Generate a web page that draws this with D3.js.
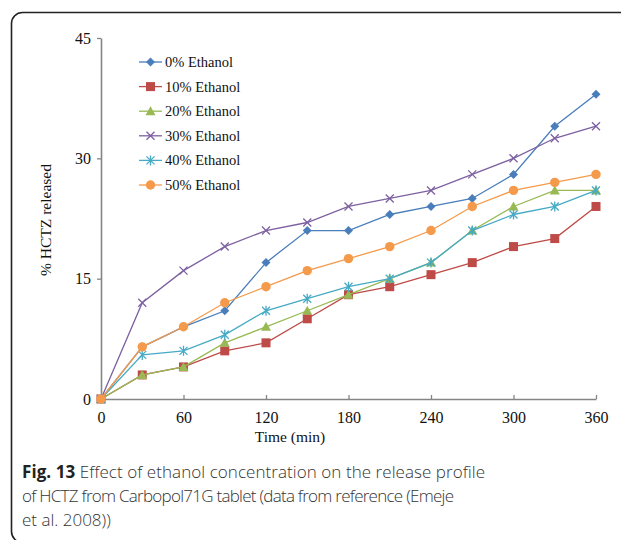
<!DOCTYPE html>
<html>
<head>
<meta charset="utf-8">
<script src="https://cdn.jsdelivr.net/npm/d3@7"></script>
<style>
  body { margin: 0; background: #fff; }
  svg { display: block; }
</style>
</head>
<body>
<svg width="621" height="540"></svg>
<script>
// data
var times = [0, 30, 60, 90, 120, 150, 180, 210, 240, 270, 300, 330, 360];
var seriesNames = ["0% Ethanol", "10% Ethanol", "20% Ethanol", "30% Ethanol", "40% Ethanol", "50% Ethanol"];
var eth0  = [0, 6.5, 9, 11, 17, 21, 21, 23, 24, 25, 28, 34, 38];
var eth10 = [0, 3, 4, 6, 7, 10, 13, 14, 15.5, 17, 19, 20, 24];
var eth20 = [0, 3, 4, 7, 9, 11, 13, 15, 17, 21, 24, 26, 26];
var eth30 = [0, 12, 16, 19, 21, 22, 24, 25, 26, 28, 30, 32.5, 34];
var eth40 = [0, 5.5, 6, 8, 11, 12.5, 14, 15, 17, 21, 23, 24, 26];
var eth50 = [0, 6.5, 9, 12, 14, 16, 17.5, 19, 21, 24, 26, 27, 28];
var xTicks = [0, 60, 120, 180, 240, 300, 360];
var yTicks = [0, 15, 30, 45];

var colors = ["#4a7ebb", "#be4b48", "#98b954", "#7d60a0", "#46aac5", "#f59a4a"];
var markers = ["diamond", "square", "triangle", "x", "star", "circle"];

var allSeries = [eth0, eth10, eth20, eth30, eth40, eth50].map(function(vals, i) {
    return { name: seriesNames[i], color: colors[i], marker: markers[i],
             points: vals.map(function(v, j) { return { t: times[j], v: v }; }) };
});

var svg = d3.select("svg");

// outer rounded frame (runs off right and bottom edges)
svg.append("rect")
    .attr("x", 11.5).attr("y", 12.5)
    .attr("width", 640).attr("height", 530)
    .attr("rx", 11)
    .attr("fill", "none")
    .attr("stroke", "#222")
    .attr("stroke-width", 1.6);

var x = d3.scaleLinear().domain([0, 360]).range([101, 596]);
var y = d3.scaleLinear().domain([0, 45]).range([399, 38]);

var axisColor = "#858585";
var serif = "'Liberation Serif', 'Times New Roman', serif";

// y axis
var yAxis = svg.append("g")
    .attr("transform", "translate(101,0)")
    .call(d3.axisLeft(y).tickValues(yTicks).tickSize(4).tickSizeOuter(0));
// x axis, ticks pointing up
var xAxis = svg.append("g")
    .attr("transform", "translate(0,399)")
    .call(d3.axisBottom(x).tickValues(xTicks).tickSize(-4).tickSizeOuter(0).tickPadding(13));

[yAxis, xAxis].forEach(function(g) {
    g.select(".domain").attr("stroke", axisColor).attr("stroke-width", 1.6);
    g.selectAll(".tick line").attr("stroke", axisColor).attr("stroke-width", 1.3);
    g.selectAll(".tick text")
        .attr("fill", "#111")
        .style("font-family", serif)
        .style("font-size", "16px");
});
yAxis.selectAll(".tick text").attr("x", -10);

// axis titles
svg.append("text")
    .attr("transform", "translate(51,220) rotate(-90)")
    .attr("text-anchor", "middle")
    .style("font-family", serif)
    .style("font-size", "15.5px")
    .attr("fill", "#111")
    .text("% HCTZ released");

svg.append("text")
    .attr("x", 290).attr("y", 442)
    .attr("text-anchor", "middle")
    .style("font-family", serif)
    .style("font-size", "15.5px")
    .attr("fill", "#111")
    .text("Time (min)");

// marker drawing
function drawMarker(g, type, color) {
    if (type === "diamond") {
        g.append("path").attr("d", "M0,-4.5L4.5,0L0,4.5L-4.5,0Z").attr("fill", color);
    } else if (type === "square") {
        g.append("rect").attr("x", -4.5).attr("y", -4.5).attr("width", 9).attr("height", 9).attr("fill", color);
    } else if (type === "triangle") {
        g.append("path").attr("d", "M0,-5L5,4L-5,4Z").attr("fill", color);
    } else if (type === "x") {
        g.append("path").attr("d", "M-4,-4L4,4M-4,4L4,-4").attr("stroke", color).attr("stroke-width", 1.3);
    } else if (type === "star") {
        g.append("path").attr("d", "M-4,-4L4,4M-4,4L4,-4M0,-5L0,5").attr("stroke", color).attr("stroke-width", 1.3);
    } else {
        g.append("circle").attr("r", 4.7).attr("fill", color);
    }
}

var line = d3.line()
    .x(function(d) { return x(d.t); })
    .y(function(d) { return y(d.v); });

var groups = svg.selectAll(".series")
    .data(allSeries)
    .enter()
    .append("g")
    .attr("class", "series");

groups.append("path")
    .attr("d", function(d) { return line(d.points); })
    .attr("fill", "none")
    .attr("stroke", function(d) { return d.color; })
    .attr("stroke-width", 1.3);

groups.each(function(s) {
    var g = d3.select(this);
    s.points.forEach(function(p) {
        var m = g.append("g").attr("transform", "translate(" + x(p.t) + "," + y(p.v) + ")");
        drawMarker(m, s.marker, s.color);
    });
});

// legend
var legend = svg.append("g").attr("transform", "translate(139,62)");
var legendItem = legend.selectAll(".legenditem")
    .data(allSeries)
    .enter()
    .append("g")
    .attr("class", "legenditem")
    .attr("transform", function(d, i) { return "translate(0," + (i * 24.6) + ")"; });

legendItem.append("line")
    .attr("x1", 0).attr("x2", 23)
    .attr("stroke", function(d) { return d.color; })
    .attr("stroke-width", 1.3);
legendItem.each(function(d) {
    var m = d3.select(this).append("g").attr("transform", "translate(11.5,0)");
    drawMarker(m, d.marker, d.color);
});
legendItem.append("text")
    .attr("x", 26).attr("y", 5)
    .style("font-family", serif)
    .style("font-size", "14.5px")
    .attr("fill", "#111")
    .text(function(d) { return d.name; });

// caption
var sans = "'Open Sans', 'Noto Sans', sans-serif";
var cap1 = svg.append("text")
    .attr("x", 22).attr("y", 478)
    .attr("textLength", 463)
    .attr("lengthAdjust", "spacing")
    .style("font-family", sans)
    .style("font-size", "17px")
    .attr("fill", "#333");
cap1.append("tspan").style("font-weight", "bold").attr("fill", "#222").text("Fig. 13");
cap1.append("tspan").style("font-weight", "300").text(" Effect of ethanol concentration on the release profile");

svg.append("text")
    .attr("x", 22).attr("y", 502)
    .attr("textLength", 432)
    .attr("lengthAdjust", "spacing")
    .style("font-family", sans)
    .style("font-size", "17px")
    .style("font-weight", "300")
    .attr("fill", "#333")
    .text("of HCTZ from Carbopol71G tablet (data from reference (Emeje");

svg.append("text")
    .attr("x", 22).attr("y", 526)
    .style("font-family", sans)
    .style("font-size", "17px")
    .style("font-weight", "300")
    .attr("fill", "#333")
    .text("et al. 2008))");
</script>
</body>
</html>
